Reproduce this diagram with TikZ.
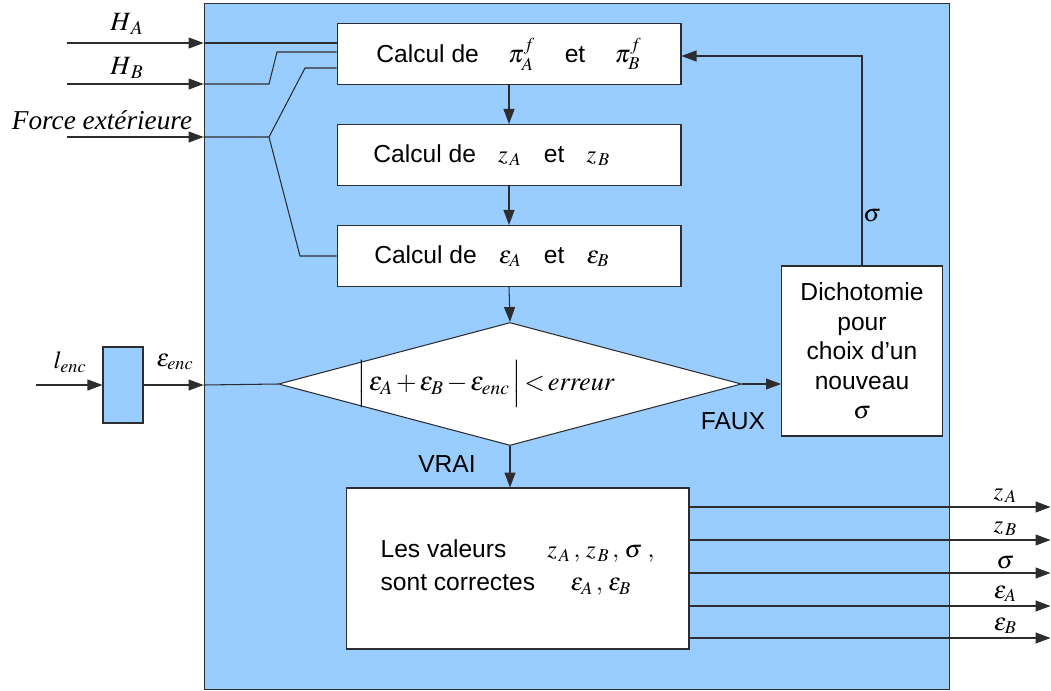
\documentclass[tikz,border=0pt]{standalone}
\usepackage{mathptmx}
\usepackage{fontspec}
\setmainfont{Liberation Sans}
\newfontfamily\timesfont{Liberation Serif}
\usetikzlibrary{shapes.geometric,arrows.meta,calc}
\definecolor{bleuclair}{RGB}{153,204,255}
\definecolor{trait}{RGB}{45,45,45}
\newcommand\ecart{\hspace{0.9em}}

\begin{document}
\begin{tikzpicture}[
    x=0.02cm, y=-0.02cm,
    every node/.style={font=\fontsize{14}{16.7}\selectfont},
    etape/.style={rectangle, draw=trait, fill=white, line width=0.6pt, align=center, inner sep=0pt},
    decision/.style={diamond, draw=trait, fill=white, line width=0.6pt, inner sep=0pt, aspect=3.76, minimum width=9.26cm, minimum height=2.46cm},
    fleche/.style={-{Triangle[length=0.3cm,width=0.22cm]}, draw=trait, line width=0.6pt},
    lien/.style={draw=trait, line width=0.6pt},
  ]
  \useasboundingbox (0,0) rectangle (1051,690);
  \node [etape, fill=bleuclair, minimum width=14.92cm, minimum height=13.74cm] (bloc) at (577,346.5) {};

  % etapes du calcul
  \node [etape, minimum width=6.88cm, minimum height=1.22cm] (pi) at (509,54) {Calcul de\hspace{1.2em}$\pi^{f}_{A}$\hspace{1.2em}et\hspace{1.2em}$\pi^{f}_{B}$};
  \node [etape, minimum width=6.88cm, minimum height=1.22cm] (z) at (509,155) {Calcul de\ecart$z_{\,A}$\ecart et\ecart$z_{\,B}$\hspace*{1.4em}};
  \node [etape, minimum width=6.88cm, minimum height=1.22cm] (eps) at (509,256) {Calcul de\ecart$\varepsilon_{A}$\ecart et\ecart$\varepsilon_{B}$\hspace*{1.4em}};
  \node [decision] (test) at (510,384) {};
  \node (ltest) at (486,384) {\fontsize{15}{18}\selectfont\medmuskip=2mu\thickmuskip=2mu$\Bigl|\,\varepsilon_{A}+\varepsilon_{B}-\varepsilon_{enc}\,\Bigr|<\mathit{erreur}$};
  \node [etape, minimum width=3.22cm, minimum height=3.4cm] (dicho) at (862,351) {Dichotomie\\pour\\choix d'un\\nouveau\\$\sigma$};
  \node [etape, minimum width=6.86cm, minimum height=3.22cm] (ok) at (517.5,568.5) {%
    \begin{tabular}{@{}l@{\hspace{0.5em}}c@{}}
      Les valeurs & $z_{\,A}\,,\,z_{\,B}\,,\,\sigma\;,$ \\[2pt]
      sont correctes & $\varepsilon_{A}\,,\,\varepsilon_{B}$
    \end{tabular}};
  \node [etape, fill=bleuclair, minimum width=0.8cm, minimum height=1.52cm] (conv) at (123,385) {};

  % entrees
  \coordinate (ha) at (67,43);
  \coordinate (hb) at (67,84);
  \coordinate (force) at (67,137);
  \coordinate (lenc) at (36,385);
  \node (lha) at (127,24) {\fontsize{15}{18}\selectfont$H_{\,A}$};
  \node (lhb) at (127,68) {\fontsize{15}{18}\selectfont$H_{\,B}$};
  \node (lforce) at (102,120) {\fontsize{15.5}{18}\selectfont\timesfont\itshape Force extérieure};
  \node (llenc) at (70,362) {$l_{enc}$};
  \node (lepsenc) at (175,362) {$\varepsilon_{enc}$};

  \draw [fleche] (ha) -- (ha -| bloc.west);
  \draw [lien] (ha -| bloc.west) -- (ha -| pi.west);
  \draw [fleche] (hb) -- (hb -| bloc.west);
  \draw [lien] (hb -| bloc.west) -- (269,84) -- (277,52) -- (pi.west |- 0,52);
  \draw [fleche] (force) -- (force -| bloc.west);
  \draw [lien] (force -| bloc.west) -- (269,137) -- (305,68) -- (pi.west |- 0,68);
  \draw [lien] (269,137) -- (300,256) -- (eps.west);
  \draw [fleche] (lenc) -- (conv.west);
  \draw [fleche] (conv.east) -- (conv.east -| bloc.west);
  \draw [lien] (conv.east -| bloc.west) -- (test.west);

  % enchainement
  \draw [fleche] (pi) -- (z);
  \draw [fleche] (z) -- (eps);
  \draw [fleche] (eps.south) -- (test.north);
  \draw [fleche] (test.south) -- (test.south |- ok.north);
  \draw [fleche] (test.east) -- (test.east -| dicho.west);
  \draw [fleche] (dicho.north) |- (pi.east |- 0,56);
  \node (lvrai) at (447,464) {VRAI};
  \node (lfaux) at (733,421) {FAUX};
  \node (lsigma) at (872,216) {$\sigma$};

  % sorties
  \foreach \dy/\lab in {-61.5/{z_{\,A}}, -28.5/{z_{\,B}}, 4.5/{\sigma}, 37.5/{\varepsilon_{A}}, 69.5/{\varepsilon_{B}}}
    \draw [fleche] ($(ok.east)+(0,\dy)$) -- ++(361,0) node [pos=0.875, above, inner sep=2pt] {$\lab$};
\end{tikzpicture}
\end{document}
